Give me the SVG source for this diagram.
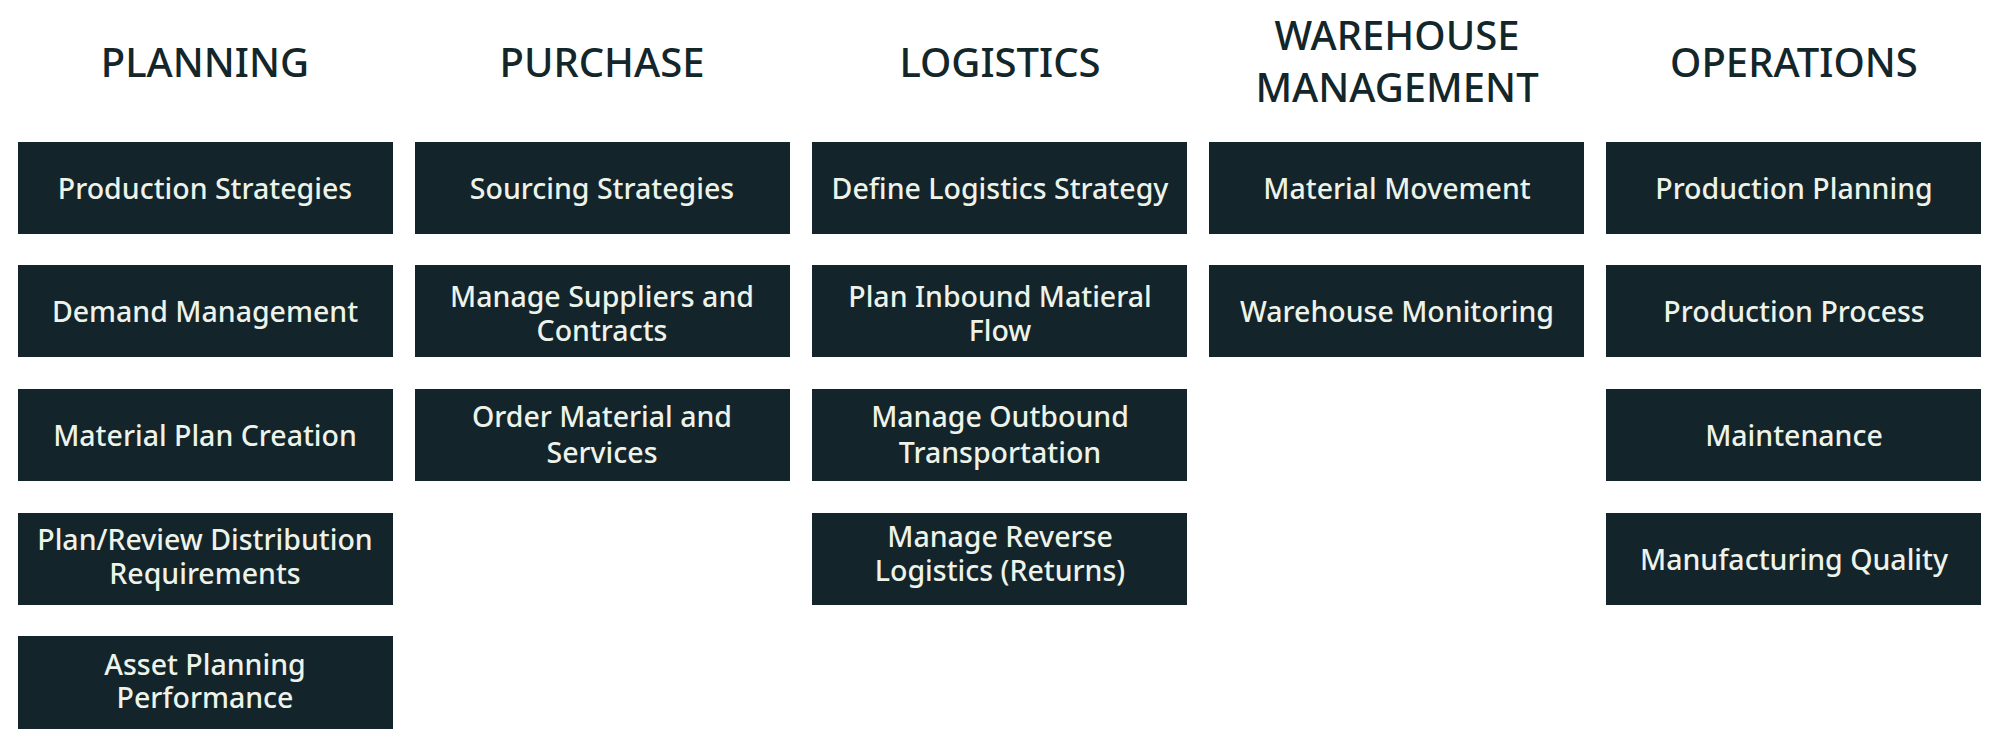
<svg xmlns="http://www.w3.org/2000/svg" width="2000" height="729" viewBox="0 0 2000 729">
<style>
.h{font-family:"Noto Sans","Liberation Sans",sans-serif;font-size:40px;font-weight:500;fill:#13262a;text-anchor:middle}
.b{fill:#13242a}
.t{font-family:"Noto Sans","Liberation Sans",sans-serif;font-size:28.5px;font-weight:500;fill:#eef3ea;text-anchor:middle}
</style>
<rect width="2000" height="729" fill="#fff"/>
<g id="headers">
<text class="h" x="205" y="77">PLANNING</text>
<text class="h" x="602" y="77">PURCHASE</text>
<text class="h" x="1000" y="77">LOGISTICS</text>
<text class="h" x="1397" y="50">WAREHOUSE</text>
<text class="h" x="1397" y="102">MANAGEMENT</text>
<text class="h" x="1794" y="77">OPERATIONS</text>
</g>
<g id="connectors"></g>
<g id="n1"><rect class="b" x="18" y="142" width="375" height="92"/><text class="t" x="205" y="199">Production Strategies</text></g>
<g id="n2"><rect class="b" x="18" y="265" width="375" height="92"/><text class="t" x="205" y="322">Demand Management</text></g>
<g id="n3"><rect class="b" x="18" y="389" width="375" height="92"/><text class="t" x="205" y="446">Material Plan Creation</text></g>
<g id="n4"><rect class="b" x="18" y="513" width="375" height="92"/><text class="t" x="205" y="550">Plan/Review Distribution</text><text class="t" x="205" y="584">Requirements</text></g>
<g id="n5"><rect class="b" x="18" y="636" width="375" height="93"/><text class="t" x="205" y="675">Asset Planning</text><text class="t" x="205" y="708">Performance</text></g>
<g id="n6"><rect class="b" x="415" y="142" width="375" height="92"/><text class="t" x="602" y="199">Sourcing Strategies</text></g>
<g id="n7"><rect class="b" x="415" y="265" width="375" height="92"/><text class="t" x="602" y="307">Manage Suppliers and</text><text class="t" x="602" y="341">Contracts</text></g>
<g id="n8"><rect class="b" x="415" y="389" width="375" height="92"/><text class="t" x="602" y="427">Order Material and</text><text class="t" x="602" y="463">Services</text></g>
<g id="n9"><rect class="b" x="812" y="142" width="375" height="92"/><text class="t" x="1000" y="199">Define Logistics Strategy</text></g>
<g id="n10"><rect class="b" x="812" y="265" width="375" height="92"/><text class="t" x="1000" y="307">Plan Inbound Matieral</text><text class="t" x="1000" y="341">Flow</text></g>
<g id="n11"><rect class="b" x="812" y="389" width="375" height="92"/><text class="t" x="1000" y="427">Manage Outbound</text><text class="t" x="1000" y="463">Transportation</text></g>
<g id="n12"><rect class="b" x="812" y="513" width="375" height="92"/><text class="t" x="1000" y="547">Manage Reverse</text><text class="t" x="1000" y="581">Logistics (Returns)</text></g>
<g id="n13"><rect class="b" x="1209" y="142" width="375" height="92"/><text class="t" x="1397" y="199">Material Movement</text></g>
<g id="n14"><rect class="b" x="1209" y="265" width="375" height="92"/><text class="t" x="1397" y="322">Warehouse Monitoring</text></g>
<g id="n15"><rect class="b" x="1606" y="142" width="375" height="92"/><text class="t" x="1794" y="199">Production Planning</text></g>
<g id="n16"><rect class="b" x="1606" y="265" width="375" height="92"/><text class="t" x="1794" y="322">Production Process</text></g>
<g id="n17"><rect class="b" x="1606" y="389" width="375" height="92"/><text class="t" x="1794" y="446">Maintenance</text></g>
<g id="n18"><rect class="b" x="1606" y="513" width="375" height="92"/><text class="t" x="1794" y="570">Manufacturing Quality</text></g>
</svg>
